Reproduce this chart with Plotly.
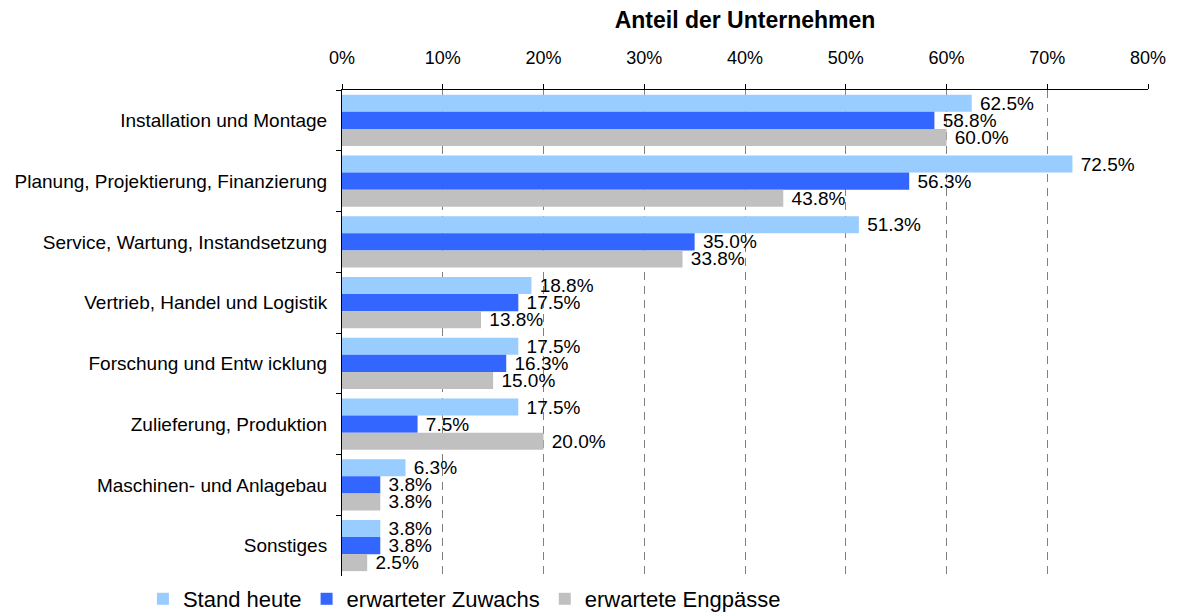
import plotly.graph_objects as go

categories = ["Installation und Montage", "Planung, Projektierung, Finanzierung",
              "Service, Wartung, Instandsetzung", "Vertrieb, Handel und Logistik",
              "Forschung und Entw icklung", "Zulieferung, Produktion",
              "Maschinen- und Anlagebau", "Sonstiges"]
stand_heute = [62.5, 72.5, 51.3, 18.8, 17.5, 17.5, 6.3, 3.8]
zuwachs = [58.8, 56.3, 35.0, 17.5, 16.3, 7.5, 3.8, 3.8]
engpaesse = [60.0, 43.8, 33.8, 13.8, 15.0, 20.0, 3.8, 2.5]
series_names = ["Stand heute", "erwarteter Zuwachs", "erwartete Engpässe"]
colors = ["#99CCFF", "#3366FF", "#C0C0C0"]
x_ticks = [0, 10, 20, 30, 40, 50, 60, 70, 80]

FONT = "Liberation Sans, Arial, sans-serif"
# page body has an 8px margin; figure sized so its content lands at page coords
W, H = 1161, 605
fig = go.Figure()
for name, vals, col in zip(series_names, [stand_heute, zuwachs, engpaesse], colors):
    fig.add_trace(go.Bar(
        y=categories, x=vals, name=name, orientation="h",
        marker=dict(color=col, line=dict(width=0)),
        text=[f" {v:.1f}%" for v in vals], textposition="outside",
        textfont=dict(family=FONT, size=19, color="black"),
        constraintext="none", cliponaxis=False,
    ))

fig.update_layout(
    width=W, height=H,
    margin=dict(l=334, r=21, t=82, b=37, autoexpand=False),
    paper_bgcolor="white", plot_bgcolor="white",
    barmode="group", bargap=0.16, bargroupgap=0,
    font=dict(family=FONT, size=18, color="black"),
    title=dict(text="<b>Anteil der Unternehmen</b>", x=737 / W,
               xanchor="center", y=1 - 12 / H, yanchor="middle",
               font=dict(family=FONT, size=23, color="black")),
    legend=dict(orientation="h", x=-0.247, xanchor="left", y=-0.0473, yanchor="middle",
                font=dict(family=FONT, size=22, color="black"), traceorder="normal",
                itemwidth=30, tracegroupgap=0),
    xaxis=dict(side="top", range=[0, 80], tickvals=x_ticks,
               ticktext=[f"{t}%" for t in x_ticks], automargin=False,
               showline=True, linecolor="black", linewidth=1,
               ticks="outside", ticklen=5, tickcolor="black",
               showgrid=True, gridcolor="#808080", griddash="8px,6px", gridwidth=1,
               zeroline=False, tickfont=dict(size=18), ticklabelstandoff=13),
    yaxis=dict(autorange="reversed", showline=True, linecolor="black", linewidth=1,
               ticks="outside", ticklen=5, tickcolor="black", tickson="boundaries",
               automargin=False,
               showgrid=False, tickfont=dict(size=19), ticklabelstandoff=10),
)
fig.write_html("out.html")
